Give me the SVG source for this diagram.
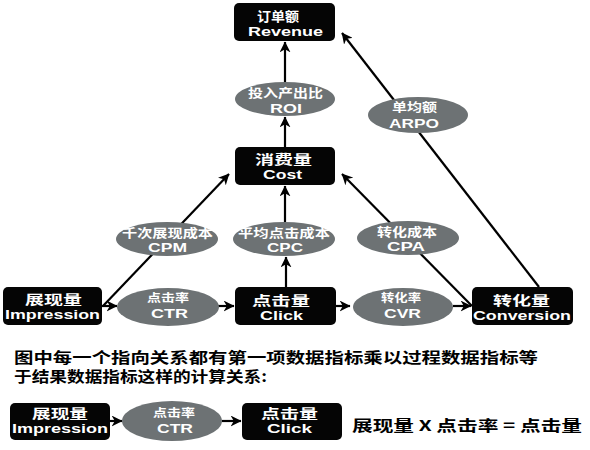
<svg xmlns="http://www.w3.org/2000/svg" width="590" height="450" viewBox="0 0 590 450">
<style>
.box{fill:#050505;}
.ell{fill:#6d7274;}
.cn{font-family:"Noto Sans CJK SC","Liberation Sans",sans-serif;font-weight:bold;fill:#fff;}
.en{font-family:"Liberation Sans",Arial,sans-serif;font-weight:bold;fill:#fff;}
.bc{font-size:13px;}
.be{font-size:12px;}
.ec{font-size:12px;}
.ee{font-size:12px;}
.ln{stroke:#000;stroke-width:2.2;fill:none;marker-end:url(#ah);}
.para{font-family:"Noto Sans CJK SC","Liberation Sans",sans-serif;font-weight:bold;fill:#000;font-size:15px;}
</style>
<defs>
<marker id="ah" viewBox="0 0 10 10" refX="9.5" refY="5" markerWidth="11" markerHeight="11" markerUnits="userSpaceOnUse" orient="auto">
<path d="M0,0 L10,5 L0,10 L3,5 z" fill="#000"/>
</marker>
</defs>
<rect width="590" height="450" fill="#fff"/>
<g id="connectors">
<line class="ln" x1="285" y1="82" x2="285" y2="42"/>
<line class="ln" x1="285" y1="147" x2="285" y2="117"/>
<line class="ln" x1="285" y1="222" x2="285" y2="186"/>
<line class="ln" x1="286" y1="287" x2="286" y2="257"/>
<line class="ln" x1="103" y1="306" x2="229" y2="174"/>
<line class="ln" x1="472" y1="306" x2="342" y2="174"/>
<line class="ln" x1="539" y1="287" x2="342" y2="33"/>
<line class="ln" x1="102" y1="306" x2="117" y2="306"/>
<line class="ln" x1="218" y1="306" x2="234" y2="306"/>
<line class="ln" x1="336" y1="306" x2="350" y2="306"/>
<line class="ln" x1="453" y1="306" x2="471" y2="306"/>
<line class="ln" x1="110" y1="421" x2="122" y2="421"/>
<line class="ln" x1="222" y1="421" x2="241" y2="421"/>
</g>
<g id="revenue">
<rect class="box" x="234" y="3" width="101" height="38" rx="5"/>
<text><tspan class="cn bc" x="257" y="20.5" textLength="42" lengthAdjust="spacingAndGlyphs">订单额</tspan><tspan class="en be" x="248" y="35.5" textLength="75" lengthAdjust="spacingAndGlyphs">Revenue</tspan></text>
</g>
<g id="roi">
<ellipse class="ell" cx="285" cy="99" rx="50" ry="17"/>
<text><tspan class="cn ec" x="248" y="97.5" textLength="75" lengthAdjust="spacingAndGlyphs">投入产出比</tspan><tspan class="en ee" x="270" y="112.5" textLength="32" lengthAdjust="spacingAndGlyphs">ROI</tspan></text>
</g>
<g id="arpo">
<ellipse class="ell" cx="418" cy="115" rx="50" ry="18"/>
<text><tspan class="cn ec" x="392" y="111.5" textLength="45" lengthAdjust="spacingAndGlyphs">单均额</tspan><tspan class="en ee" x="389" y="127.5" textLength="50" lengthAdjust="spacingAndGlyphs">ARPO</tspan></text>
</g>
<g id="cost">
<rect class="box" x="235" y="147" width="100" height="38" rx="5"/>
<text><tspan class="cn bc" x="255" y="163.5" textLength="57" lengthAdjust="spacingAndGlyphs">消费量</tspan><tspan class="en be" x="263" y="178.5" textLength="39" lengthAdjust="spacingAndGlyphs">Cost</tspan></text>
</g>
<g id="cpm">
<ellipse class="ell" cx="167" cy="239" rx="51" ry="17"/>
<text><tspan class="cn ec" x="122" y="237.5" textLength="91" lengthAdjust="spacingAndGlyphs">千次展现成本</tspan><tspan class="en ee" x="148" y="251.5" textLength="39" lengthAdjust="spacingAndGlyphs">CPM</tspan></text>
</g>
<g id="cpc">
<ellipse class="ell" cx="284" cy="239" rx="51" ry="17"/>
<text><tspan class="cn ec" x="238" y="237.5" textLength="92" lengthAdjust="spacingAndGlyphs">平均点击成本</tspan><tspan class="en ee" x="267" y="251.5" textLength="36" lengthAdjust="spacingAndGlyphs">CPC</tspan></text>
</g>
<g id="cpa">
<ellipse class="ell" cx="408" cy="238" rx="51" ry="17"/>
<text><tspan class="cn ec" x="377" y="237" textLength="60" lengthAdjust="spacingAndGlyphs">转化成本</tspan><tspan class="en ee" x="387" y="251" textLength="38" lengthAdjust="spacingAndGlyphs">CPA</tspan></text>
</g>
<g id="impression">
<rect class="box" x="3" y="287" width="99" height="38" rx="5"/>
<text><tspan class="cn bc" x="25" y="304" textLength="57" lengthAdjust="spacingAndGlyphs">展现量</tspan><tspan class="en be" x="5" y="319" textLength="95" lengthAdjust="spacingAndGlyphs">Impression</tspan></text>
</g>
<g id="ctr">
<ellipse class="ell" cx="168" cy="307" rx="51" ry="19"/>
<text><tspan class="cn" x="147" y="302" font-size="11" textLength="42" lengthAdjust="spacingAndGlyphs">点击率</tspan><tspan class="en ee" x="151" y="317.5" textLength="37" lengthAdjust="spacingAndGlyphs">CTR</tspan></text>
</g>
<g id="click">
<rect class="box" x="235" y="287" width="101" height="38" rx="5"/>
<text><tspan class="cn bc" x="252" y="305" textLength="58" lengthAdjust="spacingAndGlyphs">点击量</tspan><tspan class="en be" x="260" y="320" textLength="43" lengthAdjust="spacingAndGlyphs">Click</tspan></text>
</g>
<g id="cvr">
<ellipse class="ell" cx="403" cy="307" rx="50" ry="19"/>
<text><tspan class="cn" x="381" y="302" font-size="11" textLength="40" lengthAdjust="spacingAndGlyphs">转化率</tspan><tspan class="en ee" x="384" y="317.5" textLength="37" lengthAdjust="spacingAndGlyphs">CVR</tspan></text>
</g>
<g id="conversion">
<rect class="box" x="472" y="287" width="101" height="38" rx="5"/>
<text><tspan class="cn bc" x="493" y="304.5" textLength="57" lengthAdjust="spacingAndGlyphs">转化量</tspan><tspan class="en be" x="473" y="319.5" textLength="98" lengthAdjust="spacingAndGlyphs">Conversion</tspan></text>
</g>
<g id="caption">
<text class="para"><tspan x="14" y="363" textLength="524" lengthAdjust="spacingAndGlyphs">图中每一个指向关系都有第一项数据指标乘以过程数据指标等</tspan><tspan x="14" y="382" textLength="253" lengthAdjust="spacingAndGlyphs">于结果数据指标这样的计算关系:</tspan></text>
</g>
<g id="ex-impression">
<rect class="box" x="10" y="403" width="100" height="37" rx="5"/>
<text><tspan class="cn bc" x="32" y="418" textLength="56" lengthAdjust="spacingAndGlyphs">展现量</tspan><tspan class="en be" x="12" y="433" textLength="96" lengthAdjust="spacingAndGlyphs">Impression</tspan></text>
</g>
<g id="ex-ctr">
<ellipse class="ell" cx="172" cy="421" rx="50" ry="20"/>
<text><tspan class="cn" x="153" y="417" font-size="11" textLength="42" lengthAdjust="spacingAndGlyphs">点击率</tspan><tspan class="en ee" x="157" y="432.5" textLength="36" lengthAdjust="spacingAndGlyphs">CTR</tspan></text>
</g>
<g id="ex-click">
<rect class="box" x="242" y="403" width="100" height="37" rx="5"/>
<text><tspan class="cn bc" x="261" y="418" textLength="57" lengthAdjust="spacingAndGlyphs">点击量</tspan><tspan class="en be" x="267" y="433" textLength="45" lengthAdjust="spacingAndGlyphs">Click</tspan></text>
</g>
<g id="formula">
<text class="para" x="352" y="430.5" font-size="14" textLength="230" lengthAdjust="spacingAndGlyphs">展现量 X 点击率 = 点击量</text>
</g>
</svg>
